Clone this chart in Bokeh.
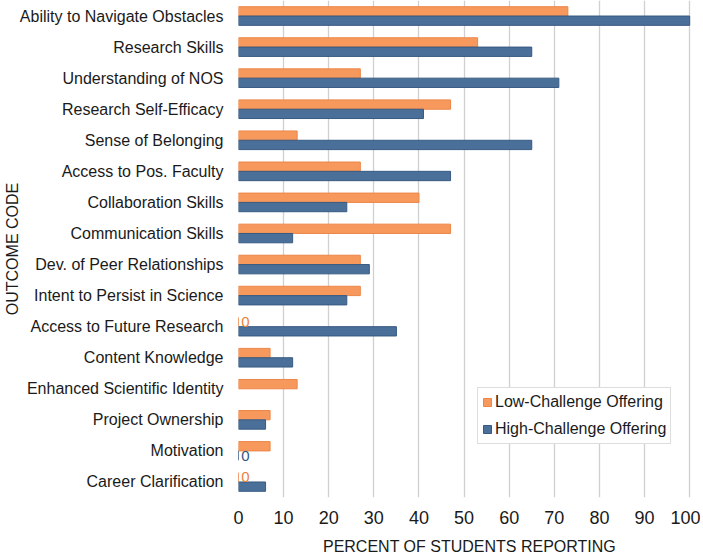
import math
from bokeh.plotting import figure
from bokeh.models import ColumnDataSource, FactorRange, Range1d, Legend, LegendItem, FixedTicker
from bokeh.transform import dodge
from bokeh.core.properties import value
from bokeh.embed import file_html
from bokeh.resources import INLINE

# ---- data ----
outcomes = [
    "Ability to Navigate Obstacles",
    "Research Skills",
    "Understanding of NOS",
    "Research Self-Efficacy",
    "Sense of Belonging",
    "Access to Pos. Faculty",
    "Collaboration Skills",
    "Communication Skills",
    "Dev. of Peer Relationships",
    "Intent to Persist in Science",
    "Access to Future Research",
    "Content Knowledge",
    "Enhanced Scientific Identity",
    "Project Ownership",
    "Motivation",
    "Career Clarification",
]
low_challenge = [73, 53, 27, 47, 13, 27, 40, 47, 27, 27, 0, 7, 13, 7, 7, 0]
high_challenge = [100, 65, 71, 41, 65, 47, 24, 12, 29, 24, 35, 12, float("nan"), 6, 0, 6]
x_ticks = [0, 10, 20, 30, 40, 50, 60, 70, 80, 90, 100]

series_names = ["Low-Challenge Offering", "High-Challenge Offering"]
ORANGE = "#F7995C"
ORANGE_LINE = "#EC8648"
BLUE = "#4A6F98"
BLUE_LINE = "#385A82"
FONT = "Liberation Sans"

src = ColumnDataSource(dict(cat=outcomes, low=low_challenge, high=high_challenge))

zero_low = [c for c, v in zip(outcomes, low_challenge) if v == 0]
zero_high = [c for c, v in zip(outcomes, high_challenge) if v == 0]
zl_src = ColumnDataSource(dict(cat=zero_low, txt=["0"] * len(zero_low)))
zh_src = ColumnDataSource(dict(cat=zero_high, txt=["0"] * len(zero_high)))

p = figure(
    width=700, height=557,
    y_range=FactorRange(factors=list(reversed(outcomes))),
    x_range=Range1d(0, 102.4),
    output_backend="svg", toolbar_location=None,
    min_border_left=238, min_border_right=0, min_border_top=0,
)
p.outline_line_color = None
p.background_fill_color = "white"
p.border_fill_color = "white"

r_low = p.hbar(y=dodge("cat", 0.15, range=p.y_range), left=0, right="low", height=0.3,
               source=src, fill_color=ORANGE, line_color=ORANGE_LINE, line_width=1)
r_high = p.hbar(y=dodge("cat", -0.15, range=p.y_range), left=0, right="high", height=0.3,
                source=src, fill_color=BLUE, line_color=BLUE_LINE, line_width=1)

p.text(x=0.6, y=dodge("cat", 0.15, range=p.y_range), text="txt", source=zl_src,
       text_color="#E9823F", text_font=value(FONT), text_font_size="15px",
       text_baseline="alphabetic", text_align="left")
p.text(x=0.6, y=dodge("cat", -0.15, range=p.y_range), text="txt", source=zh_src,
       text_color="#2F5580", text_font=value(FONT), text_font_size="15px",
       text_baseline="alphabetic", text_align="left")

# grids
p.ygrid.grid_line_color = None
p.xgrid.grid_line_color = "#D0D0D0"
p.xgrid.grid_line_width = 1.3
p.xaxis.ticker = FixedTicker(ticks=x_ticks)

# axes
p.xaxis.axis_line_color = None
p.xaxis.major_tick_line_color = None
p.xaxis.minor_tick_line_color = None
p.xaxis.major_label_text_font = FONT
p.xaxis.major_label_text_font_size = "18px"
p.xaxis.major_label_text_color = "#1a1a1a"
p.xaxis.major_label_standoff = 7
p.xaxis.axis_label = "PERCENT OF STUDENTS REPORTING"
p.xaxis.axis_label_text_font = FONT
p.xaxis.axis_label_text_font_size = "16px"
p.xaxis.axis_label_text_font_style = "normal"
p.xaxis.axis_label_text_color = "#1a1a1a"
p.xaxis.axis_label_standoff = 11

p.yaxis.axis_line_color = None
p.yaxis.major_tick_line_color = None
p.yaxis.minor_tick_line_color = None
p.yaxis.major_label_text_font = FONT
p.yaxis.major_label_text_font_size = "16px"
p.yaxis.major_label_text_color = "#1a1a1a"
p.yaxis.major_label_standoff = 9
p.yaxis.axis_label = "OUTCOME CODE"
p.yaxis.axis_label_text_font = FONT
p.yaxis.axis_label_text_font_size = "16px"
p.yaxis.axis_label_text_font_style = "normal"
p.yaxis.axis_label_text_color = "#1a1a1a"
p.yaxis.axis_label_standoff = -4

legend = Legend(items=[LegendItem(label=series_names[0], renderers=[r_low]),
                       LegendItem(label=series_names[1], renderers=[r_high])],
                location=(239, 53))
legend.label_text_font = FONT
legend.label_text_font_size = "16px"
legend.label_text_color = "#1a1a1a"
legend.glyph_width = 10
legend.glyph_height = 10
legend.label_height = 20
legend.label_standoff = 3
legend.spacing = 7
legend.padding = 4
legend.margin = 0
legend.border_line_color = "#BBBBBB"
legend.border_line_width = 1
legend.background_fill_alpha = 1
p.add_layout(legend, "center")

open("out.html", "w").write(file_html(p, INLINE))
